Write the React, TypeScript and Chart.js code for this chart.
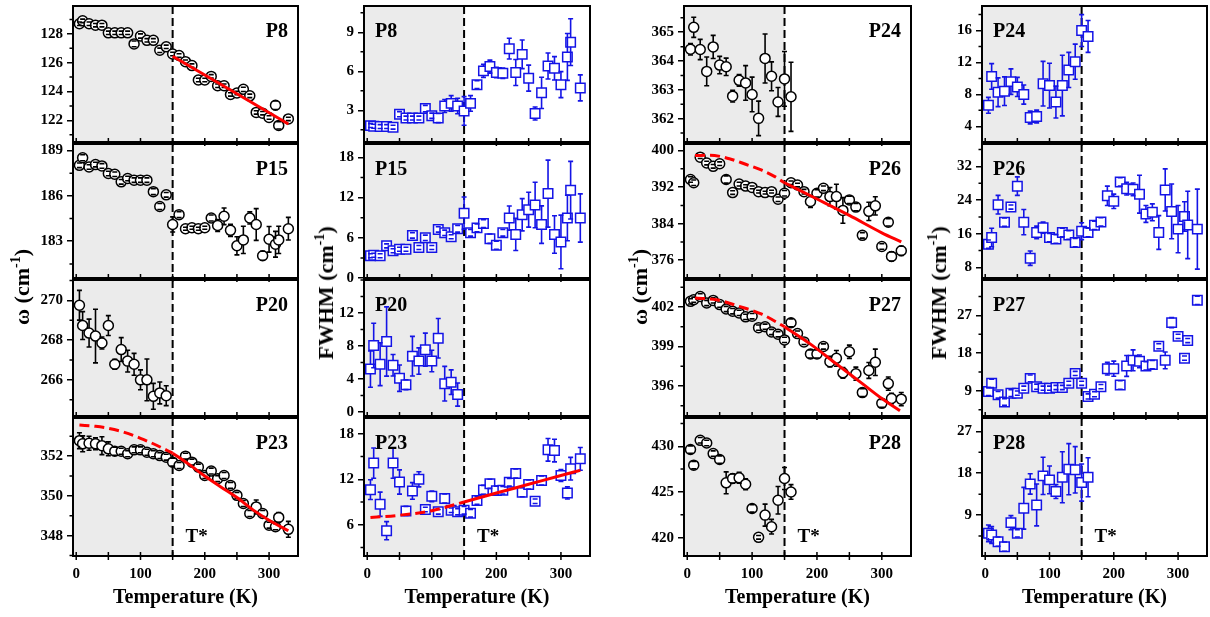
import React, { useEffect, useRef } from "react";
import { Chart, registerables } from "chart.js";
Chart.register(...registerables);

const SERIF = '"Liberation Serif", "Times New Roman", Times, serif';
const BLUE = "#1414e6";
const RED = "#ff0000";
const SHADE = "#ebebeb";
const T_STAR = 150;
const T_STAR_LABEL_T = 170;

// ---------- temperatures (K) ----------
const TEMP_FULL = [5, 10, 20, 30, 40, 50, 60, 70, 80, 90, 100, 110, 120, 130, 140, 150, 160, 170, 180, 190, 200, 210, 220, 230, 240, 250, 260, 270, 280, 290, 300, 310, 315, 330];
const TEMP_LOW = [5, 10, 20, 30, 40, 50, 60, 70, 80, 90, 100, 110, 120, 130, 140];
const TEMP_MID = [5, 10, 20, 30, 40, 50, 60, 70, 80, 90, 100, 110, 120, 130, 140, 150, 160];
const X_LABEL_TICKS = [0, 100, 200, 300];
const X_MARK_TICKS = [0, 50, 100, 150, 200, 250, 300];

// ---------- P8 ----------
const P8_W = [128.7, 128.9, 128.7, 128.6, 128.6, 128.07, 128.07, 128.07, 128.07, 127.3, 127.85, 127.55, 127.55, 126.86, 127.1, 126.6, 126.5, 126.07, 125.8, 124.8, 124.8, 125.05, 124.4, 124.4, 123.8, 123.9, 124.15, 123.7, 122.55, 122.5, 122.2, 123.05, 121.65, 122.1];
const P8_W_ERR = [0.12, 0.12, 0.12, 0.12, 0.12, 0.12, 0.12, 0.12, 0.12, 0.2, 0.15, 0.12, 0.12, 0.15, 0.12, 0.12, 0.12, 0.12, 0.12, 0.12, 0.12, 0.12, 0.12, 0.12, 0.12, 0.12, 0.15, 0.12, 0.12, 0.12, 0.12, 0.3, 0.25, 0.12];
const P8_W_FIT_T = [150, 330];
const P8_W_FIT = [126.45, 121.75];
const P8_W_RANGE = [120.5, 129.93];
const P8_W_TICKS = [122, 124, 126, 128];

const P8_F = [1.82, 1.77, 1.75, 1.75, 1.7, 2.7, 2.4, 2.4, 2.4, 3.13, 2.58, 2.4, 3.33, 3.53, 3.33, 2.95, 3.53, 4.97, 6.03, 6.36, 5.9, 5.85, 7.74, 5.9, 7.3, 5.47, 2.75, 4.34, 6.4, 6.23, 4.97, 7.1, 8.24, 4.72];
const P8_F_ERR = [0.15, 0.15, 0.15, 0.15, 0.15, 0.2, 0.15, 0.15, 0.15, 0.25, 0.2, 0.35, 0.5, 0.6, 0.6, 1.1, 0.6, 0.3, 0.5, 0.5, 0.4, 0.4, 0.8, 1.0, 1.1, 1.0, 0.5, 1.2, 1.0, 0.9, 1.0, 1.8, 1.8, 1.0];
const P8_F_RANGE = [0.56, 11.02];
const P8_F_TICKS = [3, 6, 9];

// ---------- P15 ----------
const P15_W = [188.02, 188.52, 187.91, 188.07, 187.98, 187.48, 187.43, 186.93, 187.15, 187.04, 187.04, 187.04, 186.28, 185.3, 186.07, 184.11, 184.76, 183.83, 183.89, 183.83, 183.89, 184.54, 184.04, 184.65, 183.72, 182.7, 183.09, 184.54, 184.11, 182.04, 183.13, 182.8, 183.09, 183.83];
const P15_W_ERR = [0.15, 0.2, 0.15, 0.15, 0.15, 0.15, 0.15, 0.15, 0.15, 0.15, 0.15, 0.15, 0.2, 0.2, 0.15, 0.5, 0.2, 0.1, 0.1, 0.1, 0.1, 0.2, 0.4, 0.55, 0.4, 0.6, 0.9, 0.4, 1.05, 0.3, 0.85, 0.85, 0.9, 0.75];
const P15_W_RANGE = [180.57, 189.43];
const P15_W_TICKS = [183, 186, 189];

const P15_F = [3.33, 3.4, 3.33, 4.8, 4.06, 4.3, 4.3, 6.35, 4.55, 6.0, 4.55, 7.24, 6.75, 6.16, 7.34, 9.68, 6.75, 7.48, 8.12, 5.87, 4.9, 6.75, 8.95, 6.5, 9.44, 10.2, 10.9, 7.97, 12.6, 6.5, 5.38, 8.95, 13.1, 8.95];
const P15_F_ERR = [0.3, 0.3, 0.3, 0.3, 0.3, 0.3, 0.3, 0.4, 0.3, 0.4, 0.3, 0.4, 0.4, 0.3, 0.5, 2.4, 0.5, 0.6, 0.6, 0.7, 0.6, 0.5, 1.8, 2.4, 2.4, 2.6, 3.4, 2.8, 5.0, 2.8, 4.0, 3.4, 4.3, 3.6];
const P15_F_RANGE = [0, 20];
const P15_F_TICKS = [0, 6, 12, 18];

// ---------- P20 ----------
const P20_W = [269.75, 268.73, 268.35, 268.2, 267.85, 268.73, 266.78, 267.52, 266.94, 266.78, 266.0, 266.0, 265.17, 265.34, 265.2];
const P20_W_ERR = [0.75, 0.7, 0.7, 1.35, 0.3, 0.5, 0.25, 0.6, 0.55, 0.55, 0.5, 1.05, 0.65, 0.55, 0.5];
const P20_W_RANGE = [264.18, 271.02];
const P20_W_TICKS = [266, 268, 270];

const P20_F = [5.19, 8.06, 5.78, 8.54, 5.66, 4.09, 3.3, 6.76, 6.17, 7.55, 6.17, 8.93, 3.42, 3.6, 2.1];
const P20_F_ERR = [2.2, 2.7, 2.6, 4.2, 1.3, 1.6, 0.6, 2.4, 1.6, 2.0, 1.3, 2.4, 2.1, 1.5, 1.4];
const P20_F_RANGE = [-0.5, 16];
const P20_F_TICKS = [0, 4, 8, 12];

// ---------- P23 ----------
const P23_W = [352.78, 352.62, 352.65, 352.62, 352.53, 352.37, 352.25, 352.25, 352.12, 352.32, 352.32, 352.2, 352.12, 352.03, 351.95, 351.7, 351.53, 352.0, 351.7, 351.45, 351.03, 351.25, 350.87, 351.03, 350.53, 350.03, 349.62, 349.12, 349.45, 349.12, 348.53, 348.45, 348.92, 348.32];
const P23_W_ERR = [0.4, 0.4, 0.35, 0.3, 0.45, 0.35, 0.2, 0.15, 0.15, 0.15, 0.15, 0.15, 0.15, 0.15, 0.15, 0.2, 0.15, 0.15, 0.15, 0.15, 0.15, 0.15, 0.15, 0.15, 0.15, 0.15, 0.15, 0.15, 0.35, 0.15, 0.15, 0.15, 0.25, 0.4];
const P23_W_FIT_LO_T = [5, 30, 50, 75, 100, 125, 150];
const P23_W_FIT_LO = [353.57, 353.5, 353.4, 353.2, 352.9, 352.55, 352.15];
const P23_W_FIT_HI_T = [150, 175, 200, 225, 250, 275, 300, 330];
const P23_W_FIT_HI = [352.15, 351.6, 351.0, 350.45, 349.92, 349.3, 348.78, 348.25];
const P23_W_RANGE = [346.98, 353.92];
const P23_W_TICKS = [348, 350, 352];

const P23_F = [10.63, 14.14, 8.7, 5.2, 14.14, 11.64, 7.82, 10.46, 12.0, 8.0, 9.75, 7.7, 9.45, 7.9, 7.7, 7.9, 7.5, 9.2, 10.6, 11.4, 10.5, 10.55, 11.6, 12.75, 10.3, 11.3, 9.1, 11.85, 15.9, 15.8, 12.5, 10.2, 13.4, 14.7];
const P23_F_ERR = [1.3, 2.0, 1.6, 1.2, 2.0, 1.6, 0.6, 1.1, 1.0, 0.3, 0.7, 0.3, 0.6, 0.3, 0.4, 0.5, 0.5, 0.5, 0.6, 0.6, 0.6, 0.5, 0.5, 0.6, 0.6, 0.6, 0.3, 0.6, 1.5, 1.5, 0.8, 0.8, 1.5, 1.5];
const P23_F_FIT_LO_T = [5, 50, 100, 150];
const P23_F_FIT_LO = [6.95, 7.25, 7.85, 9.0];
const P23_F_FIT_HI_T = [150, 200, 250, 300, 330];
const P23_F_FIT_HI = [9.0, 10.18, 11.34, 12.5, 13.18];
const P23_F_RANGE = [1.86, 20.1];
const P23_F_TICKS = [6, 12, 18];

// ---------- P24 ----------
const P24_W = [364.41, 365.17, 364.4, 363.64, 364.49, 363.86, 363.8, 362.78, 363.33, 363.24, 362.84, 362.01, 364.09, 363.47, 362.58, 363.38, 362.76];
const P24_W_ERR = [0.2, 0.35, 0.35, 0.5, 0.4, 0.3, 0.3, 0.2, 0.2, 0.6, 0.6, 0.6, 0.85, 0.5, 0.5, 0.95, 1.2];
const P24_W_RANGE = [361.19, 365.91];
const P24_W_TICKS = [362, 363, 364, 365];

const P24_F = [6.63, 10.25, 8.27, 8.4, 9.6, 8.93, 7.98, 5.1, 5.23, 9.34, 9.1, 7.04, 9.1, 11.07, 12.1, 16.0, 15.26];
const P24_F_ERR = [1.0, 1.6, 1.8, 1.8, 1.6, 1.2, 1.2, 0.8, 0.8, 2.8, 2.8, 2.0, 3.8, 2.2, 2.2, 2.0, 2.0];
const P24_F_RANGE = [2.03, 19.08];
const P24_F_TICKS = [4, 8, 12, 16];

// ---------- P26 ----------
const P26_W = [393.67, 392.95, 398.56, 397.27, 396.55, 397.12, 393.67, 390.8, 392.66, 392.23, 391.94, 391.0, 390.8, 391.0, 389.35, 390.65, 392.95, 392.45, 391.0, 388.85, 390.65, 391.73, 389.93, 389.93, 386.9, 389.2, 387.63, 381.44, 386.7, 387.9, 379.0, 384.3, 376.83, 378.06];
const P26_W_ERR = [0.6, 0.6, 0.3, 0.4, 0.4, 0.4, 0.8, 0.4, 0.4, 0.3, 0.3, 0.3, 0.3, 0.3, 0.5, 0.6, 0.4, 0.4, 0.5, 1.3, 0.8, 0.5, 2.0, 2.7, 2.8, 0.8, 0.8, 0.6, 2.0, 2.0, 0.6, 0.8, 1.0, 1.0];
const P26_W_FIT_LO_T = [12, 35, 65, 90, 115, 135, 150];
const P26_W_FIT_LO = [398.9, 399.0, 398.2, 397.0, 395.7, 394.3, 392.95];
const P26_W_FIT_HI_T = [150, 200, 250, 300, 330];
const P26_W_FIT_HI = [392.95, 389.4, 385.8, 382.0, 380.0];
const P26_W_RANGE = [372.1, 401.44];
const P26_W_TICKS = [376, 384, 392, 400];

const P26_F = [13.53, 15.1, 22.9, 18.75, 22.34, 27.3, 18.75, 10.2, 16.3, 17.45, 15.1, 14.75, 16.3, 15.7, 13.9, 16.6, 16.3, 18.0, 18.8, 25.0, 23.7, 28.3, 26.7, 26.55, 25.4, 20.7, 21.1, 16.3, 26.4, 21.3, 17.1, 20.1, 18.1, 17.1];
const P26_F_ERR = [1.0, 2.2, 2.2, 1.0, 0.5, 2.2, 3.0, 1.7, 1.5, 1.3, 1.0, 1.0, 1.0, 1.0, 1.0, 2.0, 1.0, 1.0, 1.0, 2.3, 1.7, 1.0, 1.5, 1.5, 4.5, 2.0, 2.0, 4.0, 5.0, 6.5, 5.6, 3.5, 8.0, 9.5];
const P26_F_RANGE = [5.5, 37.3];
const P26_F_TICKS = [8, 16, 24, 32];

// ---------- P27 ----------
const P27_W = [402.43, 402.55, 402.8, 402.3, 402.5, 402.18, 401.85, 401.68, 401.55, 401.25, 401.3, 400.43, 400.5, 400.1, 399.93, 399.5, 400.8, 399.98, 399.35, 398.43, 398.43, 399.0, 397.85, 398.1, 397.0, 398.6, 396.93, 395.5, 397.18, 397.8, 394.68, 396.18, 395.05, 395.0];
const P27_W_ERR = [0.2, 0.2, 0.2, 0.2, 0.2, 0.2, 0.2, 0.2, 0.2, 0.2, 0.2, 0.2, 0.2, 0.2, 0.2, 0.2, 0.3, 0.2, 0.2, 0.3, 0.3, 0.2, 0.4, 0.6, 0.4, 0.5, 0.5, 0.3, 0.6, 1.0, 0.3, 0.5, 0.4, 0.5];
const P27_W_FIT_LO_T = [12, 45, 80, 115, 150];
const P27_W_FIT_LO = [402.68, 402.55, 402.05, 401.45, 400.5];
const P27_W_FIT_HI_T = [150, 190, 230, 270, 300, 328];
const P27_W_FIT_HI = [400.5, 399.18, 397.68, 396.18, 395.05, 394.12];
const P27_W_RANGE = [393.72, 404.05];
const P27_W_TICKS = [396, 399, 402];

const P27_F = [8.85, 10.8, 8.06, 6.34, 8.45, 8.45, 9.63, 11.98, 10.0, 9.63, 9.63, 9.8, 9.8, 10.8, 13.15, 10.8, 7.67, 8.2, 10.0, 14.3, 14.3, 10.4, 14.95, 16.28, 16.05, 14.95, 15.26, 19.65, 16.28, 25.28, 22.0, 16.8, 21.0, 30.6];
const P27_F_ERR = [1.0, 1.0, 0.8, 0.8, 0.8, 0.5, 0.5, 0.8, 0.6, 0.5, 0.5, 0.5, 0.5, 0.5, 0.5, 0.5, 0.6, 0.6, 0.5, 1.5, 1.8, 1.0, 2.5, 2.5, 1.5, 1.0, 1.0, 0.6, 2.0, 1.2, 0.5, 0.5, 0.5, 1.0];
const P27_F_RANGE = [3.0, 35.45];
const P27_F_TICKS = [9, 18, 27];

// ---------- P28 ----------
const P28_W = [429.64, 427.93, 430.65, 430.36, 429.2, 428.55, 426.0, 426.47, 426.55, 425.85, 423.2, 420.04, 422.47, 421.2, 424.1, 426.47, 425.0];
const P28_W_ERR = [0.4, 0.4, 0.3, 0.3, 0.3, 0.4, 1.2, 0.5, 0.6, 0.6, 0.4, 0.2, 1.2, 0.8, 1.5, 1.2, 0.8];
const P28_W_RANGE = [418.0, 433.09];
const P28_W_TICKS = [420, 425, 430];

const P28_F = [5.06, 4.7, 3.26, 2.18, 7.36, 5.06, 10.45, 15.7, 11.17, 17.43, 16.57, 14.05, 17.14, 18.87, 18.73, 16.0, 17.14];
const P28_F_ERR = [1.8, 1.8, 1.0, 1.0, 1.5, 0.8, 4.5, 2.2, 4.5, 4.0, 3.0, 1.5, 5.5, 5.5, 5.0, 4.0, 4.2];
const P28_F_RANGE = [0.17, 29.9];
const P28_F_TICKS = [9, 18, 27];

// ---------- layout (pixels) ----------
const COL_LEFT = [73, 364, 684, 982];
const COL_W = [225, 226, 227, 225];
const ROW_TOP = [5, 143, 279, 417];
const ROW_H = [138, 136, 138, 139];
const LM = 70;
const PAD = 12;
const XH = 61;

type Fit = { t: number[]; v: number[]; dashed: boolean };
type PanelCfg = {
  col: number; row: number; label: string; kind: "w" | "f";
  temps: number[]; vals: number[]; errs: number[];
  range: number[]; ticks: number[]; minor: number; fits: Fit[];
};

const PANELS: PanelCfg[] = [
  { col: 0, row: 0, label: "P8", kind: "w", temps: TEMP_FULL, vals: P8_W, errs: P8_W_ERR, range: P8_W_RANGE, ticks: P8_W_TICKS, minor: 1, fits: [{ t: P8_W_FIT_T, v: P8_W_FIT, dashed: false }] },
  { col: 0, row: 1, label: "P15", kind: "w", temps: TEMP_FULL, vals: P15_W, errs: P15_W_ERR, range: P15_W_RANGE, ticks: P15_W_TICKS, minor: 1.5, fits: [] },
  { col: 0, row: 2, label: "P20", kind: "w", temps: TEMP_LOW, vals: P20_W, errs: P20_W_ERR, range: P20_W_RANGE, ticks: P20_W_TICKS, minor: 1, fits: [] },
  { col: 0, row: 3, label: "P23", kind: "w", temps: TEMP_FULL, vals: P23_W, errs: P23_W_ERR, range: P23_W_RANGE, ticks: P23_W_TICKS, minor: 1, fits: [{ t: P23_W_FIT_LO_T, v: P23_W_FIT_LO, dashed: true }, { t: P23_W_FIT_HI_T, v: P23_W_FIT_HI, dashed: false }] },
  { col: 1, row: 0, label: "P8", kind: "f", temps: TEMP_FULL, vals: P8_F, errs: P8_F_ERR, range: P8_F_RANGE, ticks: P8_F_TICKS, minor: 1.5, fits: [] },
  { col: 1, row: 1, label: "P15", kind: "f", temps: TEMP_FULL, vals: P15_F, errs: P15_F_ERR, range: P15_F_RANGE, ticks: P15_F_TICKS, minor: 3, fits: [] },
  { col: 1, row: 2, label: "P20", kind: "f", temps: TEMP_LOW, vals: P20_F, errs: P20_F_ERR, range: P20_F_RANGE, ticks: P20_F_TICKS, minor: 2, fits: [] },
  { col: 1, row: 3, label: "P23", kind: "f", temps: TEMP_FULL, vals: P23_F, errs: P23_F_ERR, range: P23_F_RANGE, ticks: P23_F_TICKS, minor: 3, fits: [{ t: P23_F_FIT_LO_T, v: P23_F_FIT_LO, dashed: true }, { t: P23_F_FIT_HI_T, v: P23_F_FIT_HI, dashed: false }] },
  { col: 2, row: 0, label: "P24", kind: "w", temps: TEMP_MID, vals: P24_W, errs: P24_W_ERR, range: P24_W_RANGE, ticks: P24_W_TICKS, minor: 0.5, fits: [] },
  { col: 2, row: 1, label: "P26", kind: "w", temps: TEMP_FULL, vals: P26_W, errs: P26_W_ERR, range: P26_W_RANGE, ticks: P26_W_TICKS, minor: 4, fits: [{ t: P26_W_FIT_LO_T, v: P26_W_FIT_LO, dashed: true }, { t: P26_W_FIT_HI_T, v: P26_W_FIT_HI, dashed: false }] },
  { col: 2, row: 2, label: "P27", kind: "w", temps: TEMP_FULL, vals: P27_W, errs: P27_W_ERR, range: P27_W_RANGE, ticks: P27_W_TICKS, minor: 1.5, fits: [{ t: P27_W_FIT_LO_T, v: P27_W_FIT_LO, dashed: true }, { t: P27_W_FIT_HI_T, v: P27_W_FIT_HI, dashed: false }] },
  { col: 2, row: 3, label: "P28", kind: "w", temps: TEMP_MID, vals: P28_W, errs: P28_W_ERR, range: P28_W_RANGE, ticks: P28_W_TICKS, minor: 2.5, fits: [] },
  { col: 3, row: 0, label: "P24", kind: "f", temps: TEMP_MID, vals: P24_F, errs: P24_F_ERR, range: P24_F_RANGE, ticks: P24_F_TICKS, minor: 2, fits: [] },
  { col: 3, row: 1, label: "P26", kind: "f", temps: TEMP_FULL, vals: P26_F, errs: P26_F_ERR, range: P26_F_RANGE, ticks: P26_F_TICKS, minor: 4, fits: [] },
  { col: 3, row: 2, label: "P27", kind: "f", temps: TEMP_FULL, vals: P27_F, errs: P27_F_ERR, range: P27_F_RANGE, ticks: P27_F_TICKS, minor: 4.5, fits: [] },
  { col: 3, row: 3, label: "P28", kind: "f", temps: TEMP_MID, vals: P28_F, errs: P28_F_ERR, range: P28_F_RANGE, ticks: P28_F_TICKS, minor: 4.5, fits: [] },
];

const Y_TITLES = [
  { kind: "w", cx: 22, cy: 287 },
  { kind: "f", cx: 326, cy: 293 },
  { kind: "w", cx: 640, cy: 287 },
  { kind: "f", cx: 939, cy: 293 },
];

function Panel({ cfg }: { cfg: PanelCfg }) {
  const ref = useRef<HTMLCanvasElement | null>(null);
  const bottom = cfg.row === 3;
  const fw = COL_W[cfg.col];
  const fh = ROW_H[cfg.row];
  const cw = LM + fw + PAD;
  const ch = PAD + fh + (bottom ? XH : PAD);
  const left = COL_LEFT[cfg.col] - LM;
  const top = ROW_TOP[cfg.row] - PAD;

  useEffect(() => {
    const canvas = ref.current;
    if (!canvas) return;
    const isW = cfg.kind === "w";
    const color = isW ? "#000000" : BLUE;
    const half = isW ? 5 : 4.7;
    const tickFont = { family: SERIF, size: 15, weight: "bold" as const };

    const decor = {
      id: "decor",
      beforeDatasetsDraw(chart: any) {
        const { ctx, chartArea: a, scales } = chart;
        const x150 = scales.x.getPixelForValue(T_STAR);
        ctx.save();
        ctx.fillStyle = SHADE;
        ctx.fillRect(a.left, a.top, x150 - a.left, a.bottom - a.top);
        ctx.strokeStyle = "#000";
        ctx.lineWidth = 2;
        ctx.setLineDash([8, 4]);
        ctx.beginPath();
        ctx.moveTo(x150, a.top);
        ctx.lineTo(x150, a.bottom);
        ctx.stroke();
        ctx.restore();
      },
      afterDatasetDraw(chart: any, args: any) {
        if (args.index !== 0) return;
        const { ctx, chartArea: a, scales } = chart;
        const xs = scales.x;
        const ys = scales.y;
        ctx.save();
        ctx.beginPath();
        ctx.rect(a.left, a.top, a.right - a.left, a.bottom - a.top);
        ctx.clip();
        ctx.strokeStyle = color;
        ctx.lineWidth = 1.6;
        ctx.setLineDash([]);
        ctx.beginPath();
        cfg.temps.forEach((t, i) => {
          const v = cfg.vals[i];
          const e = cfg.errs[i];
          const px = xs.getPixelForValue(t);
          const py = ys.getPixelForValue(v);
          const pt = ys.getPixelForValue(v + e);
          const pb = ys.getPixelForValue(v - e);
          if (py - pt > half) { ctx.moveTo(px, py - half); ctx.lineTo(px, pt); }
          if (pb - py > half) { ctx.moveTo(px, py + half); ctx.lineTo(px, pb); }
          ctx.moveTo(px - 2.5, pt); ctx.lineTo(px + 2.5, pt);
          ctx.moveTo(px - 2.5, pb); ctx.lineTo(px + 2.5, pb);
        });
        ctx.stroke();
        ctx.restore();
      },
      afterDatasetsDraw(chart: any) {
        const { ctx, chartArea: a, scales } = chart;
        const xs = scales.x;
        const ys = scales.y;
        ctx.save();
        ctx.setLineDash([]);
        ctx.strokeStyle = "#000";
        ctx.lineWidth = 2;
        ctx.strokeRect(a.left, a.top, a.right - a.left, a.bottom - a.top);
        ctx.lineWidth = 1.5;
        ctx.beginPath();
        X_MARK_TICKS.forEach((t) => {
          const px = xs.getPixelForValue(t);
          ctx.moveTo(px, a.bottom - 4);
          ctx.lineTo(px, a.bottom + 4);
        });
        const [lo, hi] = cfg.range;
        const start = Math.ceil(lo / cfg.minor - 1e-9);
        for (let k = start; k * cfg.minor <= hi + 1e-9; k++) {
          const v = k * cfg.minor;
          if (cfg.ticks.some((m) => Math.abs(m - v) < 1e-6)) continue;
          const py = ys.getPixelForValue(v);
          ctx.moveTo(a.left - 3.5, py);
          ctx.lineTo(a.left, py);
        }
        ctx.stroke();
        ctx.fillStyle = "#000";
        ctx.font = `bold 20px ${SERIF}`;
        ctx.textBaseline = "alphabetic";
        if (cfg.col % 2 === 0) {
          ctx.textAlign = "right";
          ctx.fillText(cfg.label, a.right - 10, a.top + 31);
        } else {
          ctx.textAlign = "left";
          ctx.fillText(cfg.label, a.left + 11, a.top + 31);
        }
        if (bottom) {
          ctx.textAlign = "left";
          ctx.font = `bold 19px ${SERIF}`;
          ctx.fillText("T*", xs.getPixelForValue(T_STAR_LABEL_T), a.bottom - 14);
        }
        ctx.restore();
      },
    };

    const datasets: any[] = [
      {
        type: "scatter",
        data: cfg.temps.map((t, i) => ({ x: t, y: cfg.vals[i] })),
        pointStyle: isW ? "circle" : "rect",
        pointRadius: isW ? 5 : 6.7,
        pointBackgroundColor: "#ffffff",
        pointBorderColor: color,
        pointBorderWidth: 1.5,
        showLine: false,
        order: 2,
      },
      ...cfg.fits.map((f) => ({
        type: "line",
        data: f.t.map((t, i) => ({ x: t, y: f.v[i] })),
        borderColor: RED,
        borderWidth: 3,
        borderDash: f.dashed ? [10, 5] : [],
        pointRadius: 0,
        fill: false,
        cubicInterpolationMode: "monotone",
        order: 1,
      })),
    ];

    const xScale: any = {
      type: "linear",
      position: "bottom",
      min: -5,
      max: 345,
      display: bottom,
      afterBuildTicks: (ax: any) => { ax.ticks = X_LABEL_TICKS.map((v) => ({ value: v })); },
      grid: { display: false, drawTicks: false },
      border: { display: false },
      ticks: { font: tickFont, color: "#000", padding: 9, maxRotation: 0, autoSkip: false },
      title: {
        display: true,
        text: "Temperature (K)",
        color: "#000",
        font: { family: SERIF, size: 20, weight: "bold" },
        padding: { top: 0, bottom: 7 },
      },
    };
    if (bottom) xScale.afterFit = (s: any) => { s.height = XH; };

    const chart = new Chart(canvas, {
      type: "scatter",
      data: { datasets },
      options: {
        animation: false,
        responsive: false,
        maintainAspectRatio: false,
        events: [],
        layout: { padding: { top: PAD, right: PAD, bottom: bottom ? 0 : PAD, left: 0 } },
        plugins: { legend: { display: false }, tooltip: { enabled: false } },
        scales: {
          x: xScale,
          y: {
            type: "linear",
            position: "left",
            min: cfg.range[0],
            max: cfg.range[1],
            afterBuildTicks: (ax: any) => { ax.ticks = cfg.ticks.map((v) => ({ value: v })); },
            afterFit: (s: any) => { s.width = LM; },
            grid: { display: true, drawOnChartArea: false, drawTicks: true, tickLength: 6, color: "#000", lineWidth: 1.5 },
            border: { display: false },
            ticks: { font: tickFont, color: "#000", padding: 4, autoSkip: false },
          },
        },
      } as any,
      plugins: [decor],
    });
    return () => chart.destroy();
  }, []);

  return (
    <canvas
      ref={ref}
      width={cw}
      height={ch}
      style={{ position: "absolute", left, top, width: cw, height: ch }}
    />
  );
}

function YTitle({ kind, cx, cy }: { kind: string; cx: number; cy: number }) {
  return (
    <div
      style={{
        position: "absolute",
        left: cx,
        top: cy,
        transform: "translate(-50%, -50%) rotate(-90deg)",
        font: `bold 22px ${SERIF}`,
        lineHeight: 1,
        whiteSpace: "nowrap",
        color: "#000",
      }}
    >
      {kind === "w" ? "ω (cm" : "FWHM (cm"}
      <span style={{ fontSize: 14, position: "relative", top: -9 }}>-1</span>)
    </div>
  );
}

export default function App() {
  return (
    <div
      style={{
        position: "absolute",
        left: 0,
        top: 0,
        width: 1210,
        height: 617,
        background: "#ffffff",
        overflow: "hidden",
      }}
    >
      {PANELS.map((p, i) => (
        <Panel key={i} cfg={p} />
      ))}
      {Y_TITLES.map((t, i) => (
        <YTitle key={i} kind={t.kind} cx={t.cx} cy={t.cy} />
      ))}
    </div>
  );
}
